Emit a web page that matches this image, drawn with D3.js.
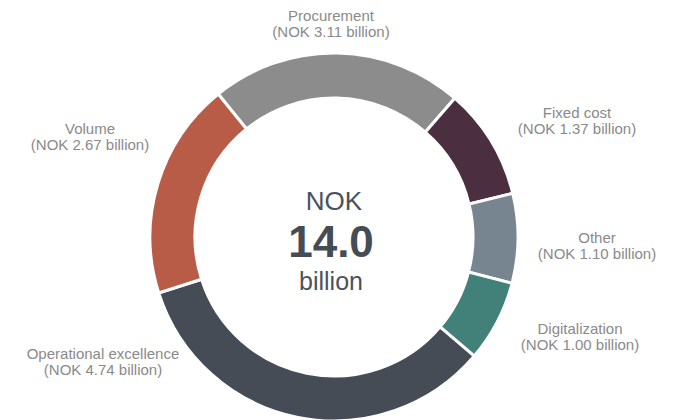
<!DOCTYPE html>
<html>
<head>
<meta charset="utf-8">
<script src="https://cdn.jsdelivr.net/npm/d3@7"></script>
<style>
	body { margin: 0; background: #fff; }
	text { font-family: Arial, "Liberation Sans", sans-serif; }
</style>
</head>
<body>

<svg width="674" height="420"></svg>

<script type="text/javascript">

	// data
	var categories = ["Procurement", "Fixed cost", "Other", "Digitalization", "Operational excellence", "Volume"];
	var values = [3.11, 1.37, 1.10, 1.00, 4.74, 2.67];
	var colors = ["#8c8c8c", "#4b2e40", "#778591", "#41817a", "#454c55", "#b95c47"];
	var totalLabel = "14.0";

	// layout: where each label block sits (center of first line)
	var labelAt = {
		"Procurement": [331, 21],
		"Fixed cost": [577, 118],
		"Other": [597, 243],
		"Digitalization": [580, 334],
		"Operational excellence": [103, 359],
		"Volume": [90, 134]
	};

	var cx = 334, cy = 237, rOuter = 184, rInner = 139;

	var svg = d3.select("svg");
	var g = svg.append("g").attr("transform", "translate(" + cx + "," + cy + ")");

	var rows = categories.map(function(c, i) { return {name: c, value: values[i], color: colors[i]}; });

	var pie = d3.pie()
		.sort(null)
		.value(function(d) { return d.value; })
		.startAngle(-39 * Math.PI / 180)
		.endAngle(321 * Math.PI / 180);

	var arc = d3.arc().innerRadius(rInner).outerRadius(rOuter);

	g.selectAll("path")
		.data(pie(rows))
		.enter().append("path")
		.attr("d", arc)
		.attr("fill", function(d) { return d.data.color; })
		.attr("stroke", "#fff")
		.attr("stroke-width", 3);

	// center text
	g.append("text")
		.attr("text-anchor", "middle")
		.attr("y", -27)
		.attr("font-size", 26)
		.attr("fill", "#4a525b")
		.text("NOK");

	g.append("text")
		.attr("text-anchor", "middle")
		.attr("x", -3)
		.attr("y", 20)
		.attr("font-size", 44)
		.attr("font-weight", "bold")
		.attr("fill", "#444c55")
		.text(totalLabel);

	g.append("text")
		.attr("text-anchor", "middle")
		.attr("x", -3)
		.attr("y", 53)
		.attr("font-size", 25)
		.attr("fill", "#4a525b")
		.text("billion");

	// outside labels
	var lab = svg.selectAll("text.lab")
		.data(rows)
		.enter().append("text")
		.attr("class", "lab")
		.attr("text-anchor", "middle")
		.attr("font-size", 15)
		.attr("fill", "#8a8a8a")
		.attr("transform", function(d) { var p = labelAt[d.name]; return "translate(" + p[0] + "," + p[1] + ")"; });

	lab.append("tspan")
		.attr("x", 0)
		.attr("y", 0)
		.text(function(d) { return d.name; });

	lab.append("tspan")
		.attr("x", 0)
		.attr("y", 16)
		.text(function(d) { return "(NOK " + d.value.toFixed(2) + " billion)"; });

</script>

</body>
</html>
